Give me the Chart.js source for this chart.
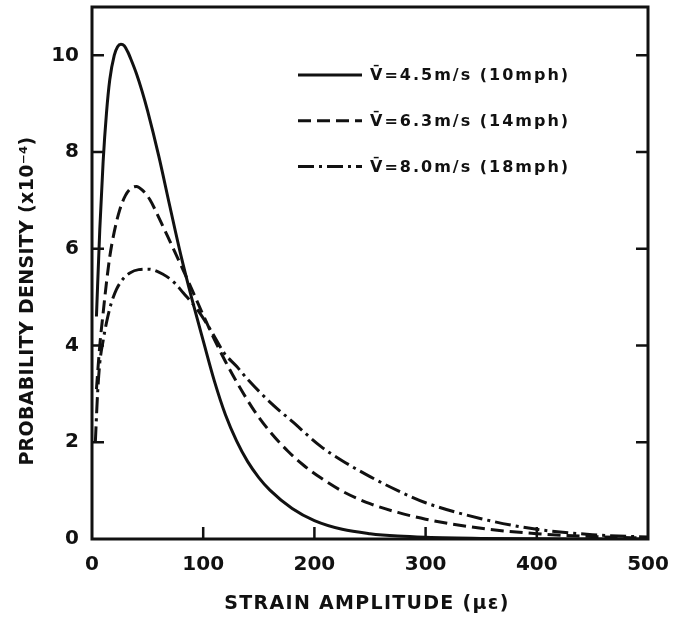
<!DOCTYPE html>
<html><head><meta charset="utf-8">
<script src="https://cdn.jsdelivr.net/npm/chart.js@4/dist/chart.umd.min.js"></script>
<style>html,body{margin:0;padding:0;background:#fff}#wrap{width:685px;height:618px;position:relative}</style>
</head><body><div id="wrap"><canvas id="c" width="685" height="618"></canvas></div>
<script>
const seriesLabels = ['V\u0304=4.5m/s (10mph)', 'V\u0304=6.3m/s (14mph)', 'V\u0304=8.0m/s (18mph)'];
const x10 = [4, 7, 10, 13, 16, 20, 23, 26, 29, 32, 35, 40, 45, 50, 60, 70, 80, 90, 100, 110, 120, 130, 140, 150, 160, 180, 200, 225, 250, 275, 300, 350, 400, 450, 500];
const y10 = [4.6, 6.4, 7.8, 8.8, 9.5, 10.0, 10.18, 10.23, 10.2, 10.08, 9.92, 9.62, 9.26, 8.85, 7.92, 6.88, 5.86, 4.95, 4.1, 3.27, 2.57, 2.03, 1.6, 1.27, 1.01, 0.63, 0.38, 0.2, 0.11, 0.06, 0.035, 0.012, 0.004, 0.001, 0];
const x14 = [4, 7, 10, 13, 16, 20, 25, 30, 35, 40, 45, 52, 60, 70, 80, 90, 100, 110, 120, 130, 146, 160, 176, 190, 206, 225, 250, 275, 300, 350, 400, 450, 500];
const y14 = [3.1, 4.0, 4.67, 5.3, 5.84, 6.35, 6.81, 7.1, 7.25, 7.29, 7.22, 7.02, 6.65, 6.16, 5.66, 5.15, 4.63, 4.13, 3.67, 3.25, 2.65, 2.22, 1.82, 1.53, 1.26, 0.99, 0.73, 0.55, 0.41, 0.22, 0.11, 0.05, 0.02];
const x18 = [3, 5, 7, 10, 13, 17, 22, 28, 34, 42, 51, 60, 67, 75, 82, 90, 97, 108, 119, 130, 140, 161, 180, 206, 225, 250, 275, 300, 350, 400, 450, 500];
const y18 = [2.0, 3.0, 3.64, 4.1, 4.47, 4.85, 5.16, 5.38, 5.50, 5.57, 5.58, 5.52, 5.43, 5.28, 5.09, 4.88, 4.67, 4.27, 3.84, 3.57, 3.3, 2.81, 2.43, 1.91, 1.62, 1.29, 1.0, 0.75, 0.42, 0.2, 0.09, 0.04];
const xTicks = [0, 100, 200, 300, 400, 500];
const yTicks = [0, 2, 4, 6, 8, 10];
const xTitle = 'STRAIN AMPLITUDE (\u03bc\u03b5)';
const yTitle = 'PROBABILITY DENSITY (x10\u207b\u2074)';

const pts = (xs, ys) => xs.map((x, i) => ({x, y: ys[i]}));
const INK = '#111';
const FONT = '"DejaVu Sans", sans-serif';

const decor = {
  id: 'decor',
  afterDraw(chart) {
    const ctx = chart.ctx, a = chart.chartArea, xs = chart.scales.x, ys = chart.scales.y;
    ctx.save();
    ctx.strokeStyle = INK; ctx.lineWidth = 3; ctx.setLineDash([]);
    ctx.strokeRect(a.left, a.top, a.right - a.left, a.bottom - a.top);
    ctx.lineWidth = 2.5;
    ctx.beginPath();
    xTicks.forEach(v => { if (v > xs.min && v < xs.max) { const p = xs.getPixelForValue(v); ctx.moveTo(p, a.bottom); ctx.lineTo(p, a.bottom - 12); } });
    yTicks.forEach(v => { if (v > ys.min && v < ys.max) { const p = ys.getPixelForValue(v); ctx.moveTo(a.left, p); ctx.lineTo(a.left + 12, p); ctx.moveTo(a.right, p); ctx.lineTo(a.right - 12, p); } });
    ctx.stroke();
    // legend
    chart.data.datasets.forEach((ds, i) => {
      const y = 75 + i * 45.7;
      ctx.beginPath();
      ctx.lineWidth = 3; ctx.setLineDash(ds.borderDash || []);
      ctx.moveTo(298, y); ctx.lineTo(362, y); ctx.stroke();
      ctx.setLineDash([]);
      ctx.fillStyle = INK; ctx.font = 'bold 16px ' + FONT;
      ctx.letterSpacing = '2px';
      ctx.textAlign = 'left'; ctx.textBaseline = 'middle';
      ctx.fillText(ds.label, 370, y + 1);
    });
    // titles
    ctx.font = 'bold 19px ' + FONT;
    ctx.letterSpacing = '1.3px';
    ctx.textAlign = 'center'; ctx.textBaseline = 'middle';
    ctx.fillText(xTitle, 367, 604);
    ctx.letterSpacing = '0.3px';
    ctx.translate(28, 301); ctx.rotate(-Math.PI / 2);
    ctx.fillText(yTitle, 0, 0);
    ctx.restore();
  }
};

new Chart(document.getElementById('c'), {
  type: 'line',
  data: {
    datasets: [
      {label: seriesLabels[0], data: pts(x10, y10), borderColor: INK, borderWidth: 3, borderDash: []},
      {label: seriesLabels[1], data: pts(x14, y14), borderColor: INK, borderWidth: 3, borderDash: [13, 6]},
      {label: seriesLabels[2], data: pts(x18, y18), borderColor: INK, borderWidth: 3, borderDash: [16, 5, 3, 5]}
    ]
  },
  options: {
    responsive: false, animation: false, devicePixelRatio: 1,
    layout: {padding: {left: 0, right: 37, top: 7, bottom: 0}},
    elements: {point: {radius: 0}, line: {cubicInterpolationMode: 'monotone', fill: false}},
    plugins: {legend: {display: false}, tooltip: {enabled: false}},
    scales: {
      x: {
        type: 'linear', min: 0, max: 500,
        afterBuildTicks: s => { s.ticks = xTicks.map(v => ({value: v})); },
        afterFit: s => { s.height = 79; s.paddingLeft = 0; s.paddingRight = 0; },
        grid: {display: false, drawTicks: false}, border: {display: false},
        ticks: {color: INK, font: {family: FONT, size: 20, weight: 'bold'}, padding: 14, maxRotation: 0}
      },
      y: {
        type: 'linear', min: 0, max: 11,
        afterBuildTicks: s => { s.ticks = yTicks.map(v => ({value: v})); },
        afterFit: s => { s.width = 92; s.paddingTop = 0; s.paddingBottom = 0; },
        grid: {display: false, drawTicks: false}, border: {display: false},
        ticks: {color: INK, font: {family: FONT, size: 20, weight: 'bold'}, padding: 13}
      }
    }
  },
  plugins: [decor]
});
</script>
</body></html>
